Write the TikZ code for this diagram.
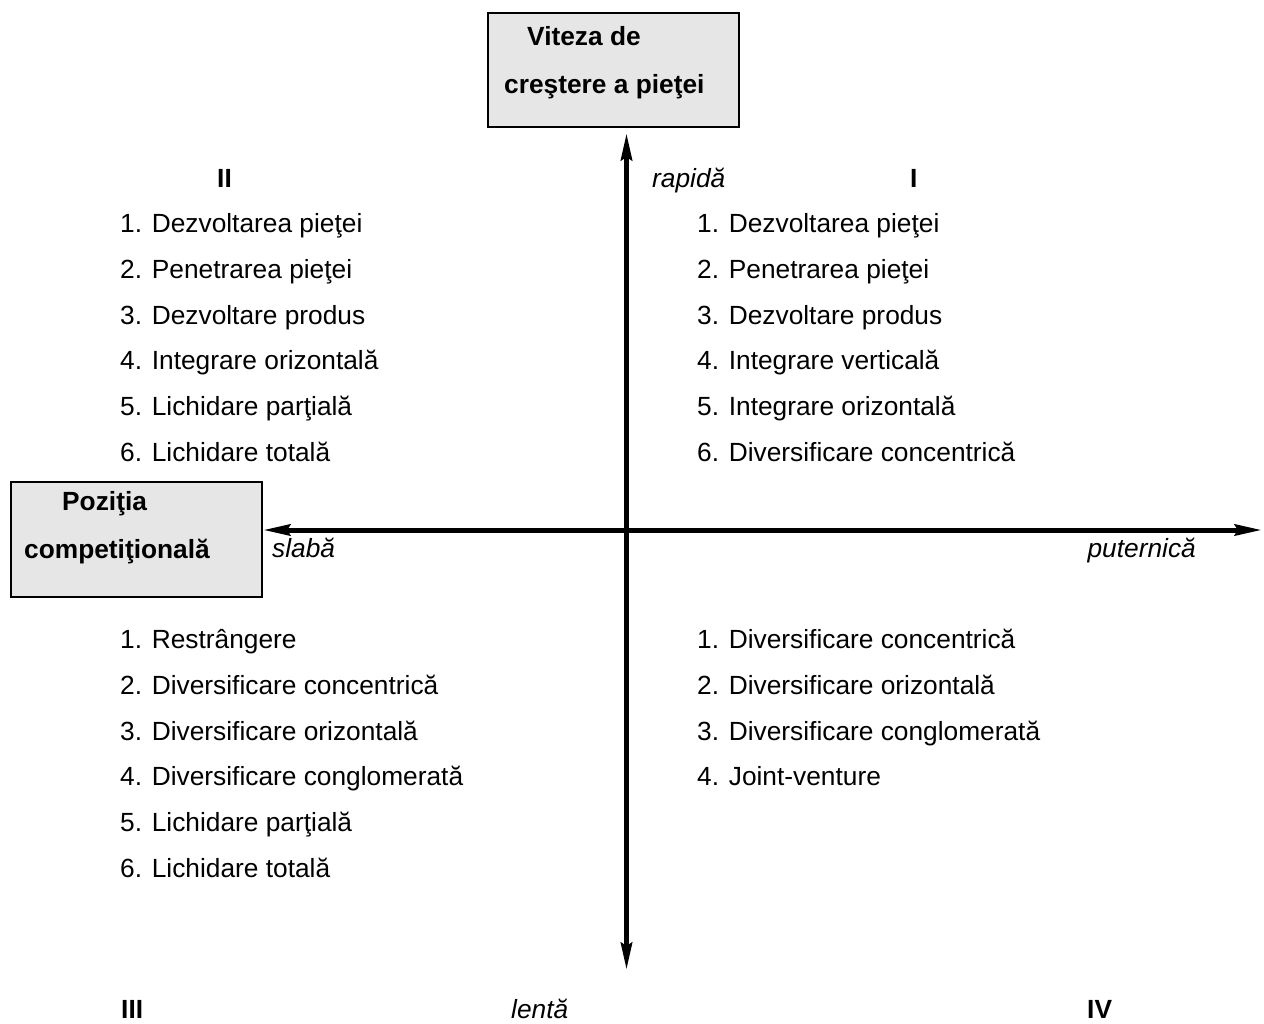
\documentclass[tikz,border=0pt]{standalone}
\usepackage{fontspec}
\setmainfont{Liberation Sans}
\usetikzlibrary{arrows.meta}
\definecolor{boxgray}{RGB}{230,230,230}
\tikzset{
  txt/.style={anchor=base west, inner sep=0pt, font=\fontsize{26.3}{31}\selectfont},
  txtb/.style={txt, font=\fontsize{26.3}{31}\selectfont\bfseries},
  txti/.style={txt, font=\fontsize{26.3}{31}\selectfont\itshape},
  titlebox/.style={draw=black, line width=2pt, fill=boxgray, inner sep=0pt},
  axis/.style={line width=5pt, {Stealth[length=27pt,width=11pt,inset=3pt]}-{Stealth[length=27pt,width=11pt,inset=3pt]}}
}
\begin{document}
\begin{tikzpicture}[x=1pt,y=-1pt]
\useasboundingbox (0,0) rectangle (1264,1023);
% boxes
\node[titlebox, minimum width=251pt, minimum height=114pt] (vbox) at (613.5,70) {};
\node[titlebox, minimum width=251pt, minimum height=115pt] (pbox) at (136.5,539.5) {};
\node[txtb] (v1) at (527,45.5) {Viteza de};
\node[txtb] (v2) at (504,93.5) {creştere a pieţei};
\node[txtb] (p1) at (62,510.5) {Poziţia};
\node[txtb] (p2) at (24,558.5) {competiţională};
% axes
\coordinate (top) at (626.5,133);
\coordinate (bot) at (626.5,970);
\coordinate (lft) at (263,530);
\coordinate (rgt) at (1262,530);
\draw[axis] (bot) -- (top);
\draw[axis] (lft) -- (rgt);
% axis labels
\node[txti] (rap) at (652,187.5) {rapidă};
\node[txti] (sla) at (272,557.5) {slabă};
\node[txti, anchor=base east] (put) at (1196,557.5) {puternică};
\node[txti] (len) at (511,1018.5) {lentă};
% quadrant numbers
\node[txtb] (qII) at (217,187.5) {II};
\node[txtb] (qI) at (910,187.5) {I};
\node[txtb] (qIII) at (121,1018.5) {III};
\node[txtb] (qIV) at (1087,1018.5) {IV};
% quadrant II
\node[txt] (a1) at (120,232) {1. Dezvoltarea pieţei};
\node[txt] (a2) at (120,278) {2. Penetrarea pieţei};
\node[txt] (a3) at (120,324) {3. Dezvoltare produs};
\node[txt] (a4) at (120,369.5) {4. Integrare orizontală};
\node[txt] (a5) at (120,415) {5. Lichidare parţială};
\node[txt] (a6) at (120,461) {6. Lichidare totală};
% quadrant I
\node[txt] (b1) at (697,232) {1. Dezvoltarea pieţei};
\node[txt] (b2) at (697,278) {2. Penetrarea pieţei};
\node[txt] (b3) at (697,324) {3. Dezvoltare produs};
\node[txt] (b4) at (697,369.5) {4. Integrare verticală};
\node[txt] (b5) at (697,415) {5. Integrare orizontală};
\node[txt] (b6) at (697,461) {6. Diversificare concentrică};
% quadrant III
\node[txt] (c1) at (120,648) {1. Restrângere};
\node[txt] (c2) at (120,694) {2. Diversificare concentrică};
\node[txt] (c3) at (120,740) {3. Diversificare orizontală};
\node[txt] (c4) at (120,785.5) {4. Diversificare conglomerată};
\node[txt] (c5) at (120,831) {5. Lichidare parţială};
\node[txt] (c6) at (120,877) {6. Lichidare totală};
% quadrant IV
\node[txt] (d1) at (697,648) {1. Diversificare concentrică};
\node[txt] (d2) at (697,694) {2. Diversificare orizontală};
\node[txt] (d3) at (697,740) {3. Diversificare conglomerată};
\node[txt] (d4) at (697,785.5) {4. Joint-venture};
\end{tikzpicture}
\end{document}
